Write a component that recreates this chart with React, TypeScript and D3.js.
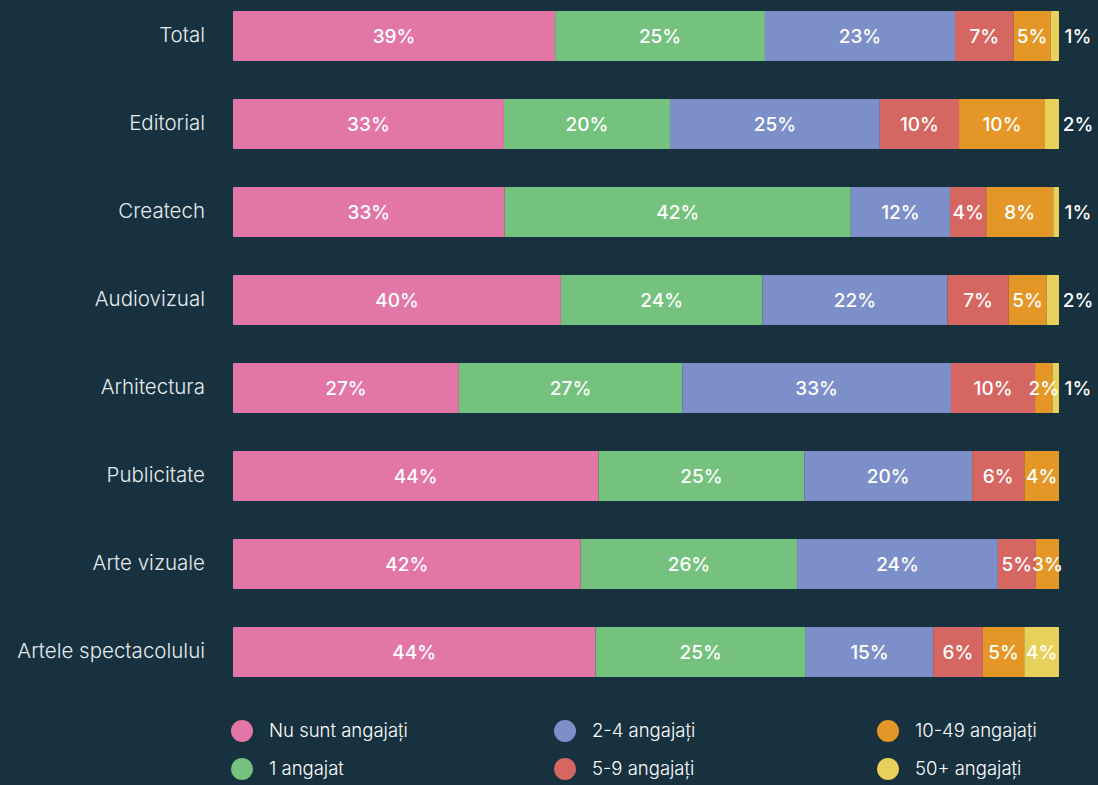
import React from "react";
import * as d3 from "d3";

const categories = ["Total", "Editorial", "Createch", "Audiovizual", "Arhitectura", "Publicitate", "Arte vizuale", "Artele spectacolului"];
const seriesNames = ["Nu sunt angajați", "1 angajat", "2-4 angajați", "5-9 angajați", "10-49 angajați", "50+ angajați"];
const seriesColors = ["#e276a6", "#75c17e", "#7d8fc8", "#d66662", "#e49726", "#e8d15a"];

const nuSunt = [39.0, 32.8, 32.9, 39.7, 27.4, 44.2, 42.1, 43.8];
const unAngajat = [25.4, 20.1, 41.9, 24.4, 27.1, 24.9, 26.2, 25.4];
const doiPatru = [23.0, 25.4, 12.0, 22.4, 32.6, 20.3, 24.3, 15.4];
const cinciNoua = [7.1, 9.6, 4.4, 7.4, 10.2, 6.3, 4.6, 6.0];
const zeceP = [4.5, 10.4, 8.1, 4.6, 2.1, 4.2, 2.8, 5.0];
const cincizeciP = [1.0, 1.7, 0.7, 1.5, 0.8, 0, 0, 4.2];

const seriesValues = [nuSunt, unAngajat, doiPatru, cinciNoua, zeceP, cincizeciP];

const W = 1098;
const H = 785;
const FONT = "Inter, 'Noto Sans', sans-serif";

export default function App() {
  const y = d3
    .scaleBand<string>()
    .domain(categories)
    .range([-8, -8 + 88 * categories.length])
    .paddingInner(38 / 88)
    .paddingOuter(19 / 88);
  const x = d3.scaleLinear().domain([0, 1]).range([233, 1059]);

  const rows = categories.map((c, i) => {
    const vals = seriesValues.map((s) => s[i]);
    const total = d3.sum(vals);
    let acc = 0;
    const segs = vals.map((v, k) => {
      const x0 = acc / total;
      acc += v;
      const x1 = acc / total;
      return { v, k, x0, x1 };
    });
    return { c, segs };
  });

  const legendCols = [242, 565, 888];
  const legendRows = [731, 769];

  return (
    <svg
      width={W}
      height={H}
      style={{ position: "absolute", left: 0, top: 0, display: "block" }}
      fontFamily={FONT}
    >
      <rect x={0} y={0} width={W} height={H} fill="#17313e" />
      {rows.map((r) => {
        const by = y(r.c)!;
        const bh = y.bandwidth();
        const cy = by + bh / 2;
        return (
          <g key={r.c}>
            <text
              x={205}
              y={cy}
              dy="0.3em"
              textAnchor="end"
              fill="#e6ecef"
              fontSize={20.5}
              fontWeight={300}
            >
              {r.c}
            </text>
            {r.segs.map((s) =>
              s.v > 0 ? (
                <rect
                  key={s.k}
                  x={x(s.x0)}
                  y={by}
                  width={x(s.x1) - x(s.x0)}
                  height={bh}
                  fill={seriesColors[s.k]}
                />
              ) : null
            )}
            {r.segs.map((s) => {
              if (s.v <= 0) return null;
              const outside = s.k === seriesNames.length - 1 && s.v < 3;
              const lx = outside ? x(1) + 19 : (x(s.x0) + x(s.x1)) / 2;
              return (
                <text
                  key={"t" + s.k}
                  x={lx}
                  y={cy}
                  dy="0.38em"
                  textAnchor="middle"
                  fill="#ffffff"
                  fontSize={19}
                  fontWeight={500}
                >
                  {Math.round(s.v) + "%"}
                </text>
              );
            })}
          </g>
        );
      })}
      {seriesNames.map((n, i) => {
        const col = Math.floor(i / 2);
        const row = i % 2;
        const cx = legendCols[col];
        const cy = legendRows[row];
        return (
          <g key={n}>
            <circle cx={cx} cy={cy} r={11} fill={seriesColors[i]} />
            <text x={cx + 27} y={cy} dy="0.35em" fill="#ffffff" fontSize={18.5} fontWeight={300}>
              {n}
            </text>
          </g>
        );
      })}
    </svg>
  );
}
